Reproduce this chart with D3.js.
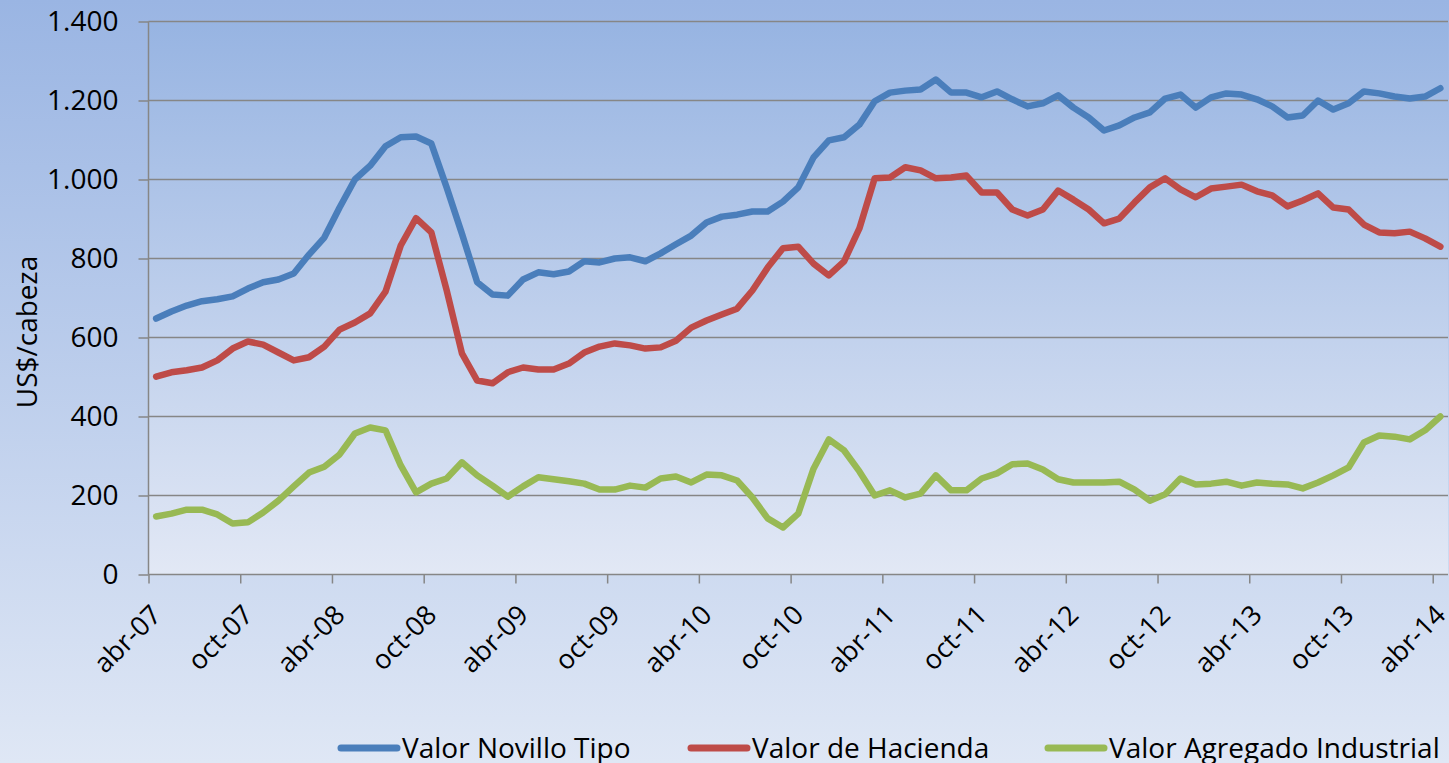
<!DOCTYPE html>
<html>
<head>
<meta charset="utf-8">
<script src="https://cdn.jsdelivr.net/npm/d3@7"></script>
<style>
  html, body { margin: 0; padding: 0; }
  body { width: 1449px; height: 763px; overflow: hidden; }
  svg { display: block; font-family: "Open Sans", sans-serif; }
</style>
</head>
<body>
<div id="chart"></div>
<script>
// monthly categories abr-07 .. abr-14
var monthNames = ["ene","feb","mar","abr","may","jun","jul","ago","sep","oct","nov","dic"];
var months = [];
for (var k = 0; k < 85; k++) {
  var m = (3 + k) % 12, yr = 7 + Math.floor((3 + k) / 12);
  months.push(monthNames[m] + "-" + (yr < 10 ? "0" + yr : "" + yr));
}

var seriesNames = ["Valor Novillo Tipo", "Valor de Hacienda", "Valor Agregado Industrial"];

var novillo = [648,666,681,692,697,704,724,740,747,762,810,853,929,1000,1035,1084,1107,1109,1091,980,
  863,740,709,706,747,765,760,767,793,790,800,803,793,813,836,858,891,906,911,919,
  919,944,980,1056,1099,1107,1139,1198,1220,1225,1228,1253,1220,1220,1208,1223,1203,1185,1193,1213,
  1182,1157,1124,1137,1157,1170,1205,1215,1182,1208,1218,1215,1203,1185,1157,1162,1200,1177,1193,1223,
  1218,1210,1205,1210,1231];

var hacienda = [501,512,517,524,542,572,590,582,562,542,550,577,620,638,661,716,833,902,866,720,
  560,491,484,512,524,519,519,534,562,577,585,580,572,575,592,625,643,658,673,719,
  777,826,830,787,757,793,876,1003,1005,1031,1023,1003,1005,1010,967,967,924,909,924,972,
  949,924,889,901,942,980,1003,975,955,977,982,987,970,960,932,947,965,929,924,886,
  866,864,868,851,830];

var industrial = [147,154,164,164,152,129,132,157,187,223,258,273,304,357,372,365,276,208,230,243,
  284,251,225,197,223,246,241,236,230,215,215,225,220,243,248,233,253,251,238,195,
  142,119,154,268,342,314,261,200,213,195,205,251,213,213,243,256,279,281,266,241,
  233,233,233,235,215,187,203,243,228,230,235,225,233,230,228,218,233,251,271,334,
  352,349,342,365,400];

var yTicks = [0, 200, 400, 600, 800, 1000, 1200, 1400];
var colors = ["#4a7ebb", "#be4b48", "#98b954"];

var W = 1449, H = 763;
var margin = {left: 148.5, right: 1448, top: 21.5, bottom: 574.5};

var svg = d3.select("#chart").append("svg")
    .attr("width", W)
    .attr("height", H);

var defs = svg.append("defs");
var g1 = defs.append("linearGradient").attr("id", "bgGrad")
    .attr("x1", 0).attr("y1", 0).attr("x2", 0).attr("y2", 1);
g1.append("stop").attr("offset", "0%").attr("stop-color", "#9ab5e3");
g1.append("stop").attr("offset", "100%").attr("stop-color", "#dfe7f5");
var g2 = defs.append("linearGradient").attr("id", "plotGrad")
    .attr("x1", 0).attr("y1", 0).attr("x2", 0).attr("y2", 1);
g2.append("stop").attr("offset", "0%").attr("stop-color", "#97b4e2");
g2.append("stop").attr("offset", "100%").attr("stop-color", "#e2e8f5");

svg.append("rect").attr("width", W).attr("height", H).attr("fill", "url(#bgGrad)");
svg.append("rect")
    .attr("x", margin.left).attr("y", margin.top)
    .attr("width", margin.right - margin.left).attr("height", margin.bottom - margin.top)
    .attr("fill", "url(#plotGrad)");

// scales
var x = d3.scaleLinear().domain([0, months.length]).range([margin.left, margin.right]);
var y = d3.scaleLinear().domain([0, 1400]).range([margin.bottom, margin.top]);

// gridlines
svg.append("g")
  .selectAll("line")
  .data(yTicks.slice(1))
  .enter().append("line")
    .attr("x1", margin.left).attr("x2", margin.right)
    .attr("y1", function(d) { return y(d); })
    .attr("y2", function(d) { return y(d); })
    .attr("stroke", "#868686")
    .attr("stroke-width", 1.5);

// y axis
var yAxis = svg.append("g")
    .attr("transform", "translate(" + margin.left + ",0)")
    .call(d3.axisLeft(y).tickValues(yTicks).tickSize(10).tickPadding(20)
      .tickFormat(function(d) { return d3.format(",")(d).replace(/,/g, "."); }));
yAxis.selectAll("line, path").attr("stroke", "#868686").attr("stroke-width", 1.5);
yAxis.select(".domain").attr("d", "M0," + margin.top + "V" + margin.bottom);
yAxis.selectAll("text")
    .attr("fill", "#000")
    .style("font-size", "28px")
    .style("font-family", "'Open Sans', sans-serif");

// x axis, tick every 6 months on category boundaries
var xTickIdx = d3.range(0, months.length, 6);
var xAxis = svg.append("g")
    .attr("transform", "translate(0," + margin.bottom + ")")
    .call(d3.axisBottom(x).tickValues(xTickIdx).tickSize(9)
      .tickFormat(function(i) { return months[i]; }));
xAxis.selectAll("line, path").attr("stroke", "#868686").attr("stroke-width", 1.5);
xAxis.select(".domain").attr("d", "M" + margin.left + ",0H" + margin.right);
xAxis.selectAll("text")
    .attr("y", 0).attr("dy", 0)
    .attr("transform", "translate(14,42) rotate(-45)")
    .style("text-anchor", "end")
    .attr("fill", "#000")
    .style("font-size", "27px")
    .style("font-family", "'Open Sans', sans-serif");

// axis title
svg.append("text")
    .attr("transform", "translate(37,332) rotate(-90)")
    .attr("text-anchor", "middle")
    .style("font-size", "28px")
    .text("US$/cabeza");

// lines
var line = d3.line()
    .x(function(d, i) { return x(i + 0.5); })
    .y(function(d) { return y(d); });

[novillo, hacienda, industrial].forEach(function(s, j) {
  svg.append("path")
      .datum(s)
      .attr("fill", "none")
      .attr("stroke", colors[j])
      .attr("stroke-width", 6.5)
      .attr("stroke-linejoin", "round")
      .attr("stroke-linecap", "round")
      .attr("d", line);
});

// legend
var legX = [341, 691, 1048];
var legend = svg.append("g").selectAll("g")
    .data(seriesNames)
    .enter().append("g")
    .attr("transform", function(d, i) { return "translate(" + legX[i] + ",748)"; });
legend.append("line")
    .attr("x1", 0).attr("x2", 56)
    .attr("stroke", function(d, i) { return colors[i]; })
    .attr("stroke-width", 7)
    .attr("stroke-linecap", "round");
legend.append("text")
    .attr("x", 61).attr("y", 10)
    .style("font-size", "28px")
    .text(function(d) { return d; });
</script>
</body>
</html>
